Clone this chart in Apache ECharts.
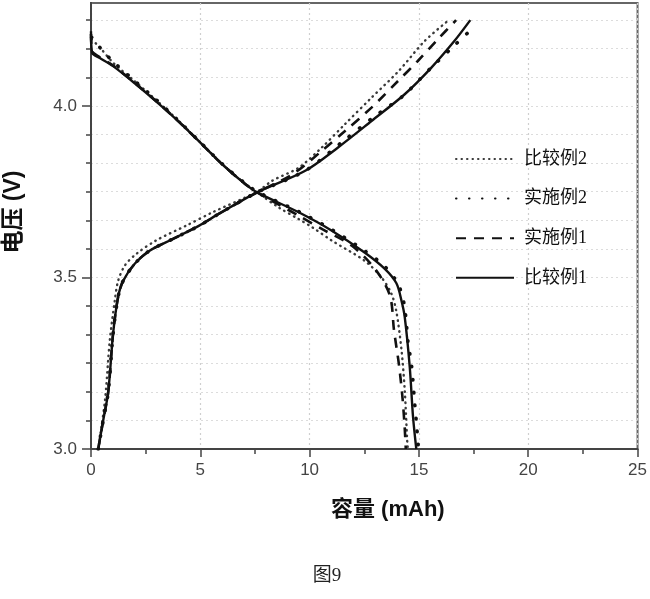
<!DOCTYPE html>
<html>
<head>
<meta charset="utf-8">
<script src="https://cdn.jsdelivr.net/npm/echarts@6/dist/echarts.min.js"></script>
<style>
html,body{margin:0;padding:0;background:#fff;}
#chart{width:650px;height:599px;}
</style>
</head>
<body>
<div id="chart"></div>
<script>
// ---- data (capacity mAh, voltage V) ----
const seriesNames = ['比较例2', '实施例2', '实施例1', '比较例1'];

const cmp1Charge = [[0.33,3.0],[0.56,3.084],[0.79,3.167],[1.01,3.336],[1.24,3.443],[1.47,3.49],[2.0,3.54],[2.68,3.578],[3.74,3.612],[4.95,3.651],[5.86,3.686],[7.6,3.748],[9.8,3.811],[11.3,3.879],[12.83,3.956],[14.35,4.034],[15.56,4.111],[16.62,4.189],[17.35,4.25]];
const cmp1Discharge = [[0.0,4.218],[0.05,4.155],[0.4,4.14],[1.01,4.116],[2.0,4.066],[3.0,4.012],[4.0,3.955],[5.0,3.893],[6.0,3.83],[7.0,3.775],[7.6,3.748],[9.5,3.69],[11.0,3.637],[12.53,3.572],[13.44,3.525],[13.97,3.483],[14.2,3.433],[14.35,3.385],[14.58,3.239],[14.73,3.094],[14.88,3.0]];

const cmp2Charge = [[0.33,3.0],[0.64,3.142],[0.86,3.317],[1.09,3.433],[1.24,3.49],[1.55,3.535],[2.08,3.569],[2.98,3.608],[4.35,3.651],[5.56,3.69],[7.6,3.75],[8.29,3.782],[9.5,3.82],[10.56,3.879],[11.62,3.947],[12.83,4.024],[14.05,4.1],[15.26,4.189],[16.4,4.252]];
const cmp2Discharge = [[0.03,4.194],[0.41,4.17],[1.01,4.126],[2.0,4.072],[3.0,4.016],[4.0,3.957],[5.0,3.894],[6.0,3.831],[7.0,3.776],[7.6,3.748],[8.59,3.704],[9.5,3.67],[10.1,3.647],[11.0,3.608],[12.53,3.548],[13.29,3.5],[13.74,3.453],[13.97,3.4],[14.2,3.29],[14.35,3.172],[14.47,3.016],[14.5,3.0]];

const ex1Charge = [[0.33,3.0],[0.56,3.084],[0.79,3.167],[1.01,3.336],[1.24,3.443],[1.47,3.49],[2.0,3.54],[2.68,3.578],[3.74,3.612],[4.95,3.651],[5.86,3.686],[7.6,3.748],[9.2,3.8],[10.56,3.869],[11.62,3.927],[12.83,3.995],[14.05,4.073],[14.95,4.131],[15.86,4.194],[16.7,4.25]];
const ex1Discharge = [[0.0,4.21],[0.05,4.16],[0.4,4.142],[1.01,4.118],[2.0,4.067],[3.0,4.013],[4.0,3.955],[5.0,3.893],[6.0,3.83],[7.0,3.775],[7.6,3.748],[9.5,3.68],[10.6,3.64],[11.92,3.593],[12.99,3.525],[13.67,3.448],[13.86,3.346],[14.09,3.244],[14.25,3.148],[14.35,3.061],[14.4,3.0]];

const ex2Charge = [[0.33,3.0],[0.56,3.084],[0.79,3.167],[1.01,3.336],[1.24,3.443],[1.47,3.49],[2.0,3.54],[2.68,3.578],[3.74,3.612],[4.95,3.651],[5.86,3.686],[7.6,3.748],[9.8,3.811],[11.55,3.898],[12.9,3.966],[14.27,4.029],[15.49,4.107],[16.7,4.181],[17.35,4.22]];
const ex2Discharge = [[0.03,4.2],[0.41,4.17],[1.0,4.13],[2.0,4.073],[3.0,4.017],[4.0,3.957],[5.0,3.894],[6.0,3.831],[7.0,3.777],[7.6,3.75],[9.5,3.692],[11.0,3.64],[12.53,3.577],[13.44,3.532],[14.05,3.48],[14.32,3.424],[14.42,3.37],[14.5,3.312],[14.65,3.25],[14.73,3.196],[14.8,3.138],[14.88,3.08],[14.98,3.0]];

const xMajorTicks = [0, 5, 10, 15, 20, 25];
const yMajorTicks = [3.0, 3.5, 4.0];
const yRange = [3.0, 4.3];

// ---- styles ----
const styles = {
  '比较例2': {color:'#3a3a3a', width:2.4, type:[0.5,5], cap:'round', z:3},
  '实施例2': {color:'#111', width:3.6, type:[0.5,12.5], cap:'round', z:4},
  '实施例1': {color:'#111', width:2.6, type:[10,8], cap:'butt', z:5},
  '比较例1': {color:'#111', width:2.4, type:'solid', cap:'butt', z:6}
};
const dataMap = {
  '比较例2': [cmp2Charge, cmp2Discharge],
  '实施例2': [ex2Charge, ex2Discharge],
  '实施例1': [ex1Charge, ex1Discharge],
  '比较例1': [cmp1Charge, cmp1Discharge]
};
const series = [];
seriesNames.forEach(name => {
  const st = styles[name];
  dataMap[name].forEach(arr => {
    series.push({
      name: name, type: 'line', data: arr, symbol: 'none', smooth: 0.3,
      xAxisIndex: 0, yAxisIndex: 0, z: st.z, silent: true,
      lineStyle: {color: st.color, width: st.width, type: st.type, cap: st.cap},
      itemStyle: {color: st.color}
    });
  });
});

const yMinorTicks = [];
for (let i = 0; i <= 15; i++) yMinorTicks.push(+(yRange[0] + i / 12).toFixed(6));

const chart = echarts.init(document.getElementById('chart'), null, {renderer: 'canvas'});
const axisFont = {fontFamily: 'Liberation Sans, Arial, sans-serif', fontSize: 17, color: '#444'};
chart.setOption({
  animation: false,
  backgroundColor: '#fff',
  grid: {left: 91, right: 9, top: 3, bottom: 150, show: true, borderColor: '#666', borderWidth: 2, backgroundColor: 'transparent'},
  legend: {
    data: seriesNames, orient: 'vertical', left: 450, top: 145,
    itemWidth: 58, itemHeight: 16, itemGap: 21.6,
    itemStyle: {opacity: 0, borderWidth: 0},
    textStyle: {fontFamily: 'Liberation Serif, Noto Sans CJK SC, serif', fontSize: 18, color: '#111', padding: [0,0,0,5]},
    selectedMode: false
  },
  xAxis: [{
    type: 'value', min: xMajorTicks[0], max: xMajorTicks[xMajorTicks.length-1], interval: 5,
    axisLine: {show: true, onZero: false, lineStyle: {color: '#444', width: 2}},
    axisTick: {show: true, inside: false, length: 8, lineStyle: {color: '#444', width: 1.5}},
    minorTick: {show: true, splitNumber: 2, length: 5, lineStyle: {color: '#444', width: 1.5}},
    axisLabel: Object.assign({margin: 13}, axisFont),
    splitLine: {show: true, lineStyle: {color: '#cfcfcf', type: [2,3], width: 1.2}}
  }],
  yAxis: [{
    type: 'value', min: yRange[0], max: yRange[1], interval: 1/12,
    axisLine: {show: true, onZero: false, lineStyle: {color: '#444', width: 2}},
    axisTick: {show: true, inside: false, length: 5, customValues: yMinorTicks.filter(v => v < yRange[1]), lineStyle: {color: '#444', width: 1.5}},
    axisLabel: {show: false},
    splitLine: {show: true, lineStyle: {color: '#dcdcdc', type: [2,3], width: 1.2}}
  }, {
    type: 'value', min: yRange[0], max: yRange[1], interval: 0.5, position: 'left',
    axisLine: {show: true, onZero: false, lineStyle: {color: '#444', width: 2}},
    axisTick: {show: true, inside: false, length: 9, customValues: yMajorTicks, lineStyle: {color: '#444', width: 1.5}},
    axisLabel: Object.assign({margin: 14, customValues: yMajorTicks, formatter: v => Number(v).toFixed(1)}, axisFont),
    splitLine: {show: false}
  }],
  graphic: [
    {type: 'text', left: 331, top: 499, style: {text: '容量 (mAh)', font: 'bold 22px "Liberation Sans", "Noto Sans CJK SC", sans-serif', fill: '#111'}},
    {type: 'text', x: 14, y: 212, rotation: Math.PI/2, style: {text: '电压 (V)', font: 'bold 23px "Liberation Sans", "Noto Sans CJK SC", sans-serif', fill: '#111', align: 'center', verticalAlign: 'middle'}},
    {type: 'text', x: 327, y: 576, style: {text: '图9', font: '19px "Liberation Serif", "Noto Sans CJK SC", serif', fill: '#222', align: 'center', verticalAlign: 'middle'}}
  ],
  series: series
});
</script>
</body>
</html>
